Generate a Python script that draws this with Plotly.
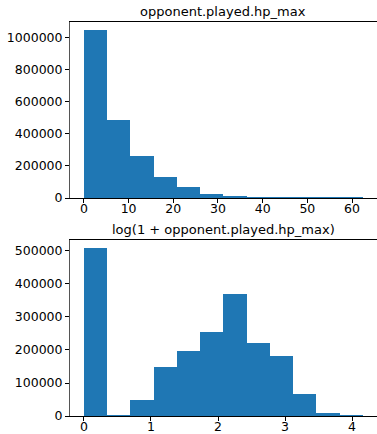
import plotly.graph_objects as go

# ---- data ----
top_title = "opponent.played.hp_max"
top_edges = [0, 5.2, 10.4, 15.6, 20.8, 26.0, 31.2, 36.4, 41.6, 46.8, 52.0, 57.2, 62.4]
top_counts = [1041000, 482000, 262000, 131000, 65000, 21000, 8000, 2000, 500, 200, 100, 50]

bot_title = "log(1 + opponent.played.hp_max)"
bot_edges = [0, 0.3466, 0.6932, 1.0398, 1.3864, 1.733, 2.0796, 2.4262, 2.7728, 3.1194, 3.466, 3.8126, 4.1592]
bot_counts = [507000, 1500, 47000, 147000, 195000, 255000, 368000, 219000, 182000, 65000, 9000, 2000]

top_xticks = [0, 10, 20, 30, 40, 50, 60]
top_yticks = [0, 200000, 400000, 600000, 800000, 1000000]
bot_xticks = [0, 1, 2, 3, 4]
bot_yticks = [0, 100000, 200000, 300000, 400000, 500000]

BLUE = "#1f77b4"
W, H = 377, 434

def centers(edges):
    return [(a + b) / 2 for a, b in zip(edges[:-1], edges[1:])]

def widths(edges):
    return [b - a for a, b in zip(edges[:-1], edges[1:])]

fig = go.Figure()
fig.add_trace(go.Bar(x=centers(top_edges), y=top_counts, width=widths(top_edges),
                     marker=dict(color=BLUE, line=dict(width=0)), xaxis="x", yaxis="y",
                     showlegend=False, hoverinfo="x+y"))
fig.add_trace(go.Bar(x=centers(bot_edges), y=bot_counts, width=widths(bot_edges),
                     marker=dict(color=BLUE, line=dict(width=0)), xaxis="x2", yaxis="y2",
                     showlegend=False, hoverinfo="x+y"))

left_px, right_px = 70, 376.7
top_ax = (22.3, 198)
bot_ax = (240.3, 416)

def ydom(t, b):
    return [1 - b / H, 1 - t / H]

tick_font = dict(family="DejaVu Sans", size=12.5, color="black")
common_x = dict(showgrid=False, zeroline=False, showline=True, linecolor="black", linewidth=1,
                mirror=True, ticks="outside", ticklen=4, tickcolor="black", tickwidth=1,
                tickfont=tick_font, automargin=False, ticklabelstandoff=-5)
common_y = dict(showgrid=False, zeroline=False, showline=True, linecolor="#555555", linewidth=1,
                mirror=True, ticks="outside", ticklen=4, tickcolor="black", tickwidth=1,
                tickfont=tick_font, tickformat="d", automargin=False, ticklabelstandoff=0)

tmax = max(top_edges)
bmax = max(bot_edges)
fig.update_layout(
    template="none",
    width=W, height=H,
    margin=dict(l=0, r=0, t=0, b=0, pad=0),
    paper_bgcolor="white", plot_bgcolor="white",
    bargap=0,
    xaxis=dict(domain=[left_px / W, right_px / W], anchor="y",
               range=[-0.05 * tmax, 1.05 * tmax], tickvals=top_xticks, **common_x),
    yaxis=dict(domain=ydom(*top_ax), anchor="x",
               range=[0, 1.05 * max(top_counts)], tickvals=top_yticks, **common_y),
    xaxis2=dict(domain=[left_px / W, right_px / W], anchor="y2",
                range=[-0.05 * bmax, 1.05 * bmax], tickvals=bot_xticks, **common_x),
    yaxis2=dict(domain=ydom(*bot_ax), anchor="x2",
                range=[0, 1.05 * max(bot_counts)], tickvals=bot_yticks, **common_y),
    annotations=[
        dict(text=top_title, x=(left_px + right_px) / 2 / W, y=1 - top_ax[0] / H,
             xref="paper", yref="paper", xanchor="center", yanchor="bottom", yshift=1,
             showarrow=False, font=dict(family="DejaVu Sans", size=13, color="black")),
        dict(text=bot_title, x=(left_px + right_px) / 2 / W, y=1 - bot_ax[0] / H,
             xref="paper", yref="paper", xanchor="center", yanchor="bottom", yshift=1,
             showarrow=False, font=dict(family="DejaVu Sans", size=13, color="black")),
    ],
)

fig.write_html("out.html", config={"displayModeBar": False},
               post_script="document.body.style.margin='0';document.body.style.overflow='hidden';")
